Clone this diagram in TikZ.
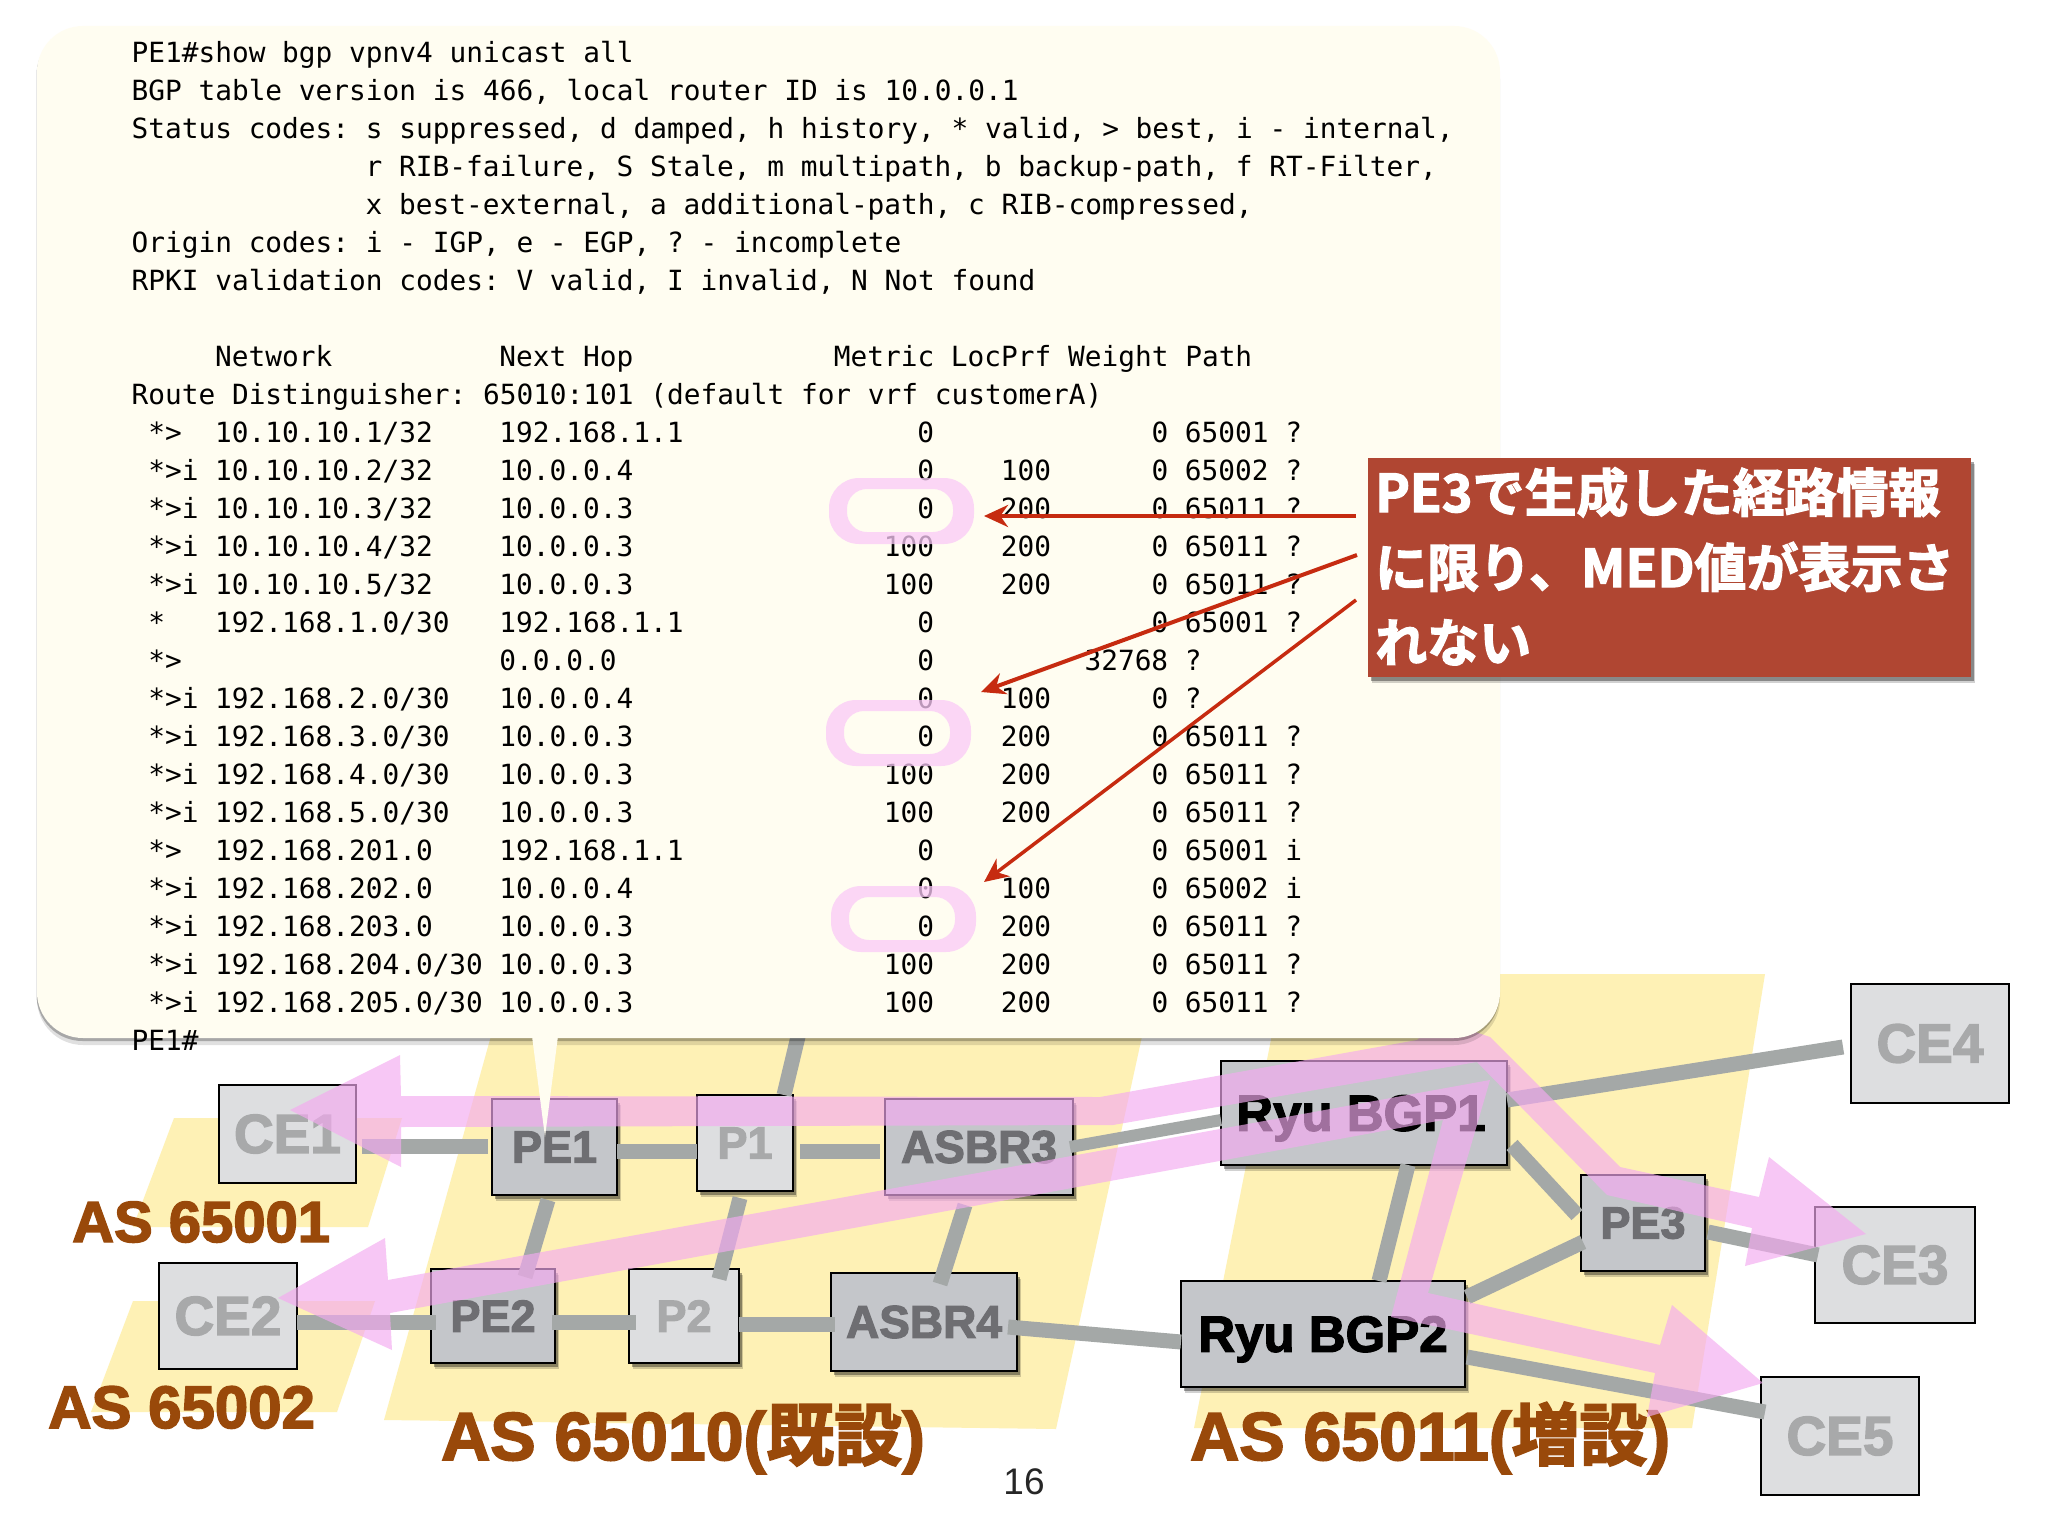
\documentclass[tikz,border=0pt]{standalone}
\usepackage{fontspec}
\usetikzlibrary{calc,shadows,arrows.meta}
\newfontfamily\climono{DejaVu Sans Mono}
\newfontfamily\heavy[FakeBold=2.5]{Liberation Sans Bold}
\newfontfamily\plainsans{Liberation Sans}
\newfontfamily\jp[FakeBold=2.5]{Noto Sans CJK JP Bold}
\definecolor{zone}{HTML}{FEF1B5}
\definecolor{cream}{HTML}{FFFDF1}
\definecolor{lightbox}{HTML}{DDDEE0}
\definecolor{midbox}{HTML}{C4C6CA}
\definecolor{lightlabel}{HTML}{A8A9AA}
\definecolor{midlabel}{HTML}{6E6E72}
\definecolor{linkgray}{HTML}{A4A8A7}
\definecolor{pinkband}{RGB}{244,170,240}
\definecolor{ringpink}{HTML}{FACAF7}
\definecolor{brown}{HTML}{99490A}
\definecolor{calloutred}{HTML}{B04632}
\definecolor{arrowred}{HTML}{C62B10}
\newlength\cw
\setlength\cw{16.72pt}
\newcommand\fz[1]{\fontsize{#1}{#1}\selectfont}
\newcommand\cl[2]{\node[clitext] (c#1) at (131.4,{62.4+38*#1}) {#2};}
\newcommand\rt[8]{\cl{#1}{\makebox[5\cw][l]{~#2}\makebox[17\cw][l]{#3}\makebox[20\cw][l]{#4}\makebox[6\cw][r]{#5}\makebox[7\cw][r]{#6}\makebox[7\cw][r]{#7}~#8}}
\tikzset{
  softshadow/.style={drop shadow={shadow xshift=4pt,shadow yshift=-6pt,opacity=.18,fill=black},
                     drop shadow={shadow xshift=3pt,shadow yshift=-4pt,opacity=.35,fill=black}},
  boxbase/.style={draw=black,line width=2.8pt,rectangle,inner sep=0pt,outer sep=0pt,align=center},
  cebox/.style={boxbase,fill=lightbox,text=lightlabel,font=\heavy\fz{55}},
  pbox/.style={boxbase,fill=lightbox,text=lightlabel,font=\heavy\fz{45},softshadow},
  pebox/.style={boxbase,fill=midbox,text=midlabel,font=\heavy\fz{45},softshadow},
  asbox/.style={boxbase,fill=midbox,text=midlabel,font=\heavy\fz{46},softshadow},
  ryubox/.style={boxbase,fill=midbox,text=black,font=\heavy\fz{51},text depth=0pt,softshadow},
  link/.style={draw=linkgray,line width=15pt},
  band/.style={fill=pinkband,fill opacity=.66},
  zonefill/.style={fill=zone},
  clitext/.style={anchor=base west,inner sep=0pt,text=black,font=\climono\fz{27.8}\frenchspacing},
  aslabel/.style={anchor=base west,inner sep=0pt,text=brown},
  ring/.style={fill=ringpink,fill opacity=.75,even odd rule},
  redarrow/.style={draw=arrowred,-{Stealth[length=24pt,width=22pt]}},
  calltext/.style={anchor=base west,inner sep=0pt,text=white,font=\jp\fz{52}},
}
\begin{document}
\begin{tikzpicture}[x=1pt,y=-1pt]
\useasboundingbox (0,0) rectangle (2048,1536);
\fill[white] (0,0) rectangle (2048,1536);
% AS zones
\fill[zonefill] (174,1118) -- (402,1118) -- (368,1227) -- (133,1227) -- cycle;
\fill[zonefill] (133,1301) -- (375,1301) -- (337,1412) -- (91,1412) -- cycle;
\fill[zonefill] (501,1000) -- (1150,1000) -- (1056,1429) -- (384,1420) -- cycle;
\fill[zonefill] (1284,974) -- (1765,974) -- (1692,1428) -- (1194,1428) -- cycle;
% AS labels
\node[aslabel,font=\heavy\fz{58}] (as1) at (72,1242) {AS 65001};
\node[aslabel,font=\heavy\fz{60}] (as2) at (48,1428) {AS 65002};
\node[aslabel,font=\heavy\fz{68}] (as3) at (441,1460) {AS 65010({\jp 既設})};
\node[aslabel,font=\heavy\fz{68}] (as4) at (1190,1460) {AS 65011({\jp 増設})};
\node[font=\plainsans\fz{37},text=black!85] (pg) at (1024,1482) {16};
% Routers
\node[cebox,minimum width=137pt,minimum height=98pt] (ce1) at (287.5,1134) {CE1};
\node[pebox,minimum width=125pt,minimum height=96pt] (pe1) at (554.5,1147) {PE1};
\node[pbox,minimum width=96pt,minimum height=96pt] (p1) at (745,1143) {P1};
\node[asbox,minimum width=188pt,minimum height=96pt] (asbr3) at (979,1147) {ASBR3};
\node[cebox,minimum width=138pt,minimum height=106pt] (ce2) at (228,1316) {CE2};
\node[pebox,minimum width=124pt,minimum height=94pt] (pe2) at (493,1316) {PE2};
\node[pbox,minimum width=110pt,minimum height=94pt] (p2) at (684,1316) {P2};
\node[asbox,minimum width=186pt,minimum height=98pt] (asbr4) at (924,1322) {ASBR4};
\node[ryubox,minimum width=286pt,minimum height=104pt] (bgp1) at (1364,1113) {\hspace*{-6pt}Ryu BGP1};
\node[ryubox,minimum width=284pt,minimum height=106pt] (bgp2) at (1323,1334) {Ryu BGP2};
\node[pebox,minimum width=124pt,minimum height=96pt] (pe3) at (1643,1223) {PE3};
\node[cebox,minimum width=158pt,minimum height=119pt] (ce4) at (1930,1043.5) {CE4};
\node[cebox,minimum width=160pt,minimum height=116pt] (ce3) at (1895,1265) {CE3};
\node[cebox,minimum width=158pt,minimum height=118pt] (ce5) at (1840,1436) {CE5};
% Links
\coordinate (p1up) at (802,1020);
\draw[link] ($(ce1.east)+(6,12)$) -- ($(pe1.west)+(-4,-1)$);
\draw[link] ($(pe1.east)+(0,4)$) -- ($(p1.west)+(0,8)$);
\draw[link] ($(p1.east)+(7,8)$) -- ($(asbr3.west)+(-5,4)$);
\draw[link] ($(pe1.south)+(-6.5,5)$) -- ($(pe2.north)+(32,8)$);
\draw[link] ($(p1.south)+(-5,7)$) -- ($(p2.north)+(35,10)$);
\draw[link] (p1up) -- ($(p1.north)+(39,0)$);
\draw[link] ($(asbr3.south)+(-14,10)$) -- ($(asbr4.north)+(16,11)$);
\draw[link] ($(ce2.east)+(0,6)$) -- ($(pe2.west)+(5,6)$);
\draw[link] ($(pe2.east)+(-3,6)$) -- ($(p2.west)+(7,6)$);
\draw[link] ($(p2.east)+(0,8)$) -- ($(asbr4.west)+(4,2)$);
\draw[link] ($(asbr4.east)+(-9,5)$) -- ($(bgp2.west)+(0,8)$);
\draw[link,line width=12pt] ($(asbr3.east)+(-3,0)$) -- ($(bgp1.west)+(0,7)$);
\draw[link] ($(bgp1.east)+(0,-13)$) -- ($(ce4.west)+(-8,3.5)$);
\draw[link] ($(bgp1.south)+(44,0)$) -- ($(bgp2.north)+(56,0)$);
\draw[link] ($(bgp1.east)+(5,32)$) -- ($(pe3.west)+(-4,-8)$);
\draw[link] ($(bgp2.east)+(2,-37)$) -- ($(pe3.west)+(2,19)$);
\draw[link] ($(pe3.east)+(3,9)$) -- ($(ce3.west)+(3,-10)$);
\draw[link] ($(bgp2.east)+(2,23)$) -- ($(ce5.west)+(4,-24)$);
% Pink route bands
\fill[band] (290,1110) -- (400,1055) -- (401,1096) -- (1100,1097) -- (1417,1040) -- (1440,1020) -- (1490,1037) -- (1620,1167) -- (1759,1197) -- (1769,1157) -- (1866,1234) -- (1745,1266) -- (1752,1228) -- (1607,1195) -- (1477,1062) -- (1113,1125) -- (401,1127) -- (401,1167) -- cycle;
\fill[band] (278,1298) -- (385,1238) -- (388,1280) -- (1490,1080) -- (1428,1293) -- (1660,1345) -- (1672,1305) -- (1763,1383) -- (1647,1417) -- (1655,1373) -- (1391,1317) -- (1443,1120) -- (390,1313) -- (392,1350) -- cycle;
% Speech bubble
\node[fill=cream,rounded corners=46pt,minimum width=1463pt,minimum height=1012pt,inner sep=0pt,outer sep=0pt,
  drop shadow={shadow xshift=0pt,shadow yshift=-7pt,opacity=.12,fill=black},
  drop shadow={shadow xshift=-.5pt,shadow yshift=-3pt,opacity=.25,fill=black}] (bubble) at (768.5,532) {};
\fill[cream] (532,1036) -- (558,1036) -- (545,1137) -- cycle;
% CLI output
\cl{0}{PE1\#show bgp vpnv4 unicast all}
\cl{1}{BGP table version is 466, local router ID is 10.0.0.1}
\cl{2}{Status codes: s suppressed, d damped, h history, * valid, > best, i - internal,}
\cl{3}{\hspace*{14\cw}r RIB-failure, S Stale, m multipath, b backup-path, f RT-Filter,}
\cl{4}{\hspace*{14\cw}x best-external, a additional-path, c RIB-compressed,}
\cl{5}{Origin codes: i - IGP, e - EGP, ? - incomplete}
\cl{6}{RPKI validation codes: V valid, I invalid, N Not found}
\cl{8}{\hspace*{5\cw}\makebox[17\cw][l]{Network}\makebox[20\cw][l]{Next Hop}Metric LocPrf Weight Path}
\cl{9}{Route Distinguisher: 65010:101 (default for vrf customerA)}
\rt{10}{*>}{10.10.10.1/32}{192.168.1.1}{0}{}{0}{65001 ?}
\rt{11}{*>i}{10.10.10.2/32}{10.0.0.4}{0}{100}{0}{65002 ?}
\rt{12}{*>i}{10.10.10.3/32}{10.0.0.3}{0}{200}{0}{65011 ?}
\rt{13}{*>i}{10.10.10.4/32}{10.0.0.3}{100}{200}{0}{65011 ?}
\rt{14}{*>i}{10.10.10.5/32}{10.0.0.3}{100}{200}{0}{65011 ?}
\rt{15}{*}{192.168.1.0/30}{192.168.1.1}{0}{}{0}{65001 ?}
\rt{16}{*>}{}{0.0.0.0}{0}{}{32768}{?}
\rt{17}{*>i}{192.168.2.0/30}{10.0.0.4}{0}{100}{0}{?}
\rt{18}{*>i}{192.168.3.0/30}{10.0.0.3}{0}{200}{0}{65011 ?}
\rt{19}{*>i}{192.168.4.0/30}{10.0.0.3}{100}{200}{0}{65011 ?}
\rt{20}{*>i}{192.168.5.0/30}{10.0.0.3}{100}{200}{0}{65011 ?}
\rt{21}{*>}{192.168.201.0}{192.168.1.1}{0}{}{0}{65001 i}
\rt{22}{*>i}{192.168.202.0}{10.0.0.4}{0}{100}{0}{65002 i}
\rt{23}{*>i}{192.168.203.0}{10.0.0.3}{0}{200}{0}{65011 ?}
\rt{24}{*>i}{192.168.204.0/30}{10.0.0.3}{100}{200}{0}{65011 ?}
\rt{25}{*>i}{192.168.205.0/30}{10.0.0.3}{100}{200}{0}{65011 ?}
\cl{26}{PE1\#}
% Rings around the zero metrics
\path[ring] [rounded corners=30pt] (829,478) rectangle (974,544) [rounded corners=20pt] (847,489) rectangle (953,532);
\path[ring] [rounded corners=30pt] (826,700) rectangle (971,766) [rounded corners=20pt] (844,711) rectangle (950,754);
\path[ring] [rounded corners=30pt] (831,886) rectangle (976,952) [rounded corners=20pt] (849,897) rectangle (955,940);
% Callout
\node[fill=calloutred,minimum width=603pt,minimum height=219pt,inner sep=0pt,outer sep=0pt,softshadow] (callout) at (1669.5,567.5) {};
\node[calltext] (co1) at (1375,512) {PE3で生成した経路情報};
\node[calltext] (co2) at (1375,587) {に限り、MED値が表示さ};
\node[calltext] (co3) at (1375,662) {れない};
% Red arrows
\coordinate (t1) at (984,516);
\coordinate (t2) at (981,692);
\coordinate (t3) at (984,882);
\draw[redarrow,line width=4.5pt] ($(callout.west)+(-12,-51.5)$) -- (t1);
\draw[redarrow,line width=4pt] ($(callout.west)+(-11,-12.5)$) -- (t2);
\draw[redarrow,line width=3.5pt] ($(callout.west)+(-12,32.5)$) -- (t3);
\end{tikzpicture}
\end{document}
